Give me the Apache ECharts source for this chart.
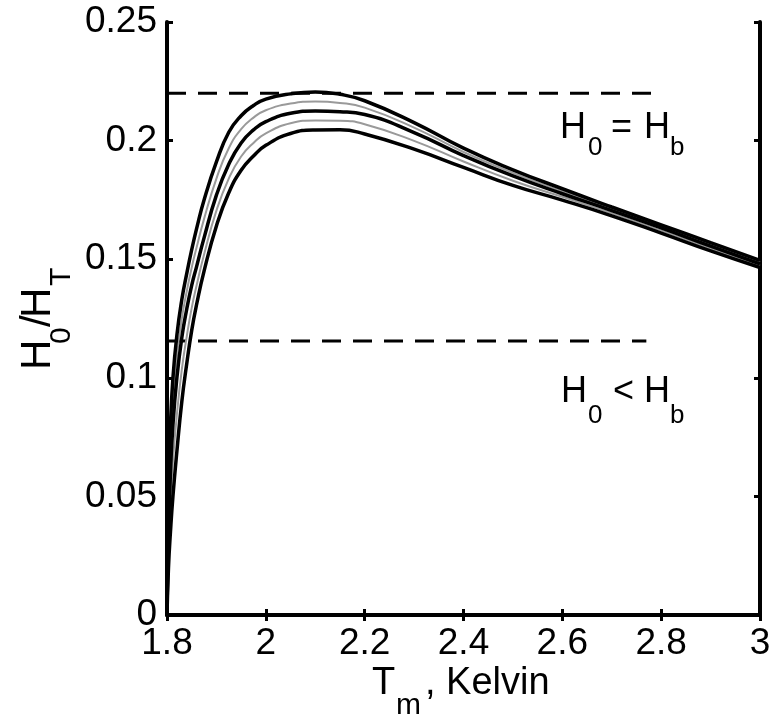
<!DOCTYPE html>
<html>
<head>
<meta charset="utf-8">
<script src="https://cdn.jsdelivr.net/npm/echarts@6/dist/echarts.min.js"></script>
<style>html,body{margin:0;padding:0;background:#fff;}#c{width:784px;height:720px;}</style>
</head>
<body>
<div id="c"></div>
<script>
// Temperature grid (Kelvin)
var tGrid = [1.8, 1.803, 1.807, 1.812, 1.82, 1.83, 1.84, 1.85, 1.86, 1.875, 1.9, 1.925, 1.95, 1.975, 2.0, 2.05, 2.1, 2.15, 2.2, 2.3, 2.4, 2.5, 2.6, 2.7, 2.8, 2.9, 3.0];
// H0/HT curves (top to bottom)
var curveA  = [0, .05, .08, .1, .118, .133, .144, .154, .163, .175, .191, .2035, .2105, .2148, .2175, .2197, .2205, .2195, .2168, .2076, .1968, .1877, .1797, .172, .1645, .157, .1495];
var curveAB = [0, .0425, .07, .09, .109, .125, .1365, .1465, .155, .167, .184, .1968, .2048, .2097, .2128, .2156, .2165, .2159, .2139, .2055, .1952, .1864, .1786, .1713, .1639, .1563, .1488];
var curveB  = [0, .035, .06, .08, .1, .117, .129, .139, .147, .159, .177, .19, .199, .2045, .208, .2115, .2125, .2122, .211, .2034, .1937, .1851, .1776, .1705, .1632, .1555, .148];
var curveBC = [0, .0275, .0475, .065, .0845, .1035, .1175, .1295, .139, .152, .1705, .184, .1933, .199, .203, .2073, .2085, .2084, .2069, .1999, .1912, .1831, .1763, .1694, .1621, .1545, .1473];
var curveC  = [0, .02, .035, .05, .069, .09, .106, .12, .131, .145, .164, .178, .1875, .1935, .198, .203, .2045, .2046, .2028, .1964, .1887, .1811, .1749, .1683, .161, .1535, .1465];
// Dashed reference levels
var upperLevelX = [1.8, 2.78];
var upperLevelY = [0.22, 0.22];
var lowerLevelX = [1.8, 2.77];
var lowerLevelY = [0.1155, 0.1155];

var FONT = '"Liberation Sans", Arial, Helvetica, sans-serif';

function pairs(xs, ys) { return xs.map(function (x, i) { return [x, ys[i]]; }); }

function txt(t, size, x, baseline) {
  return {
    type: 'text', x: x, y: baseline - 0.35 * size,
    style: { text: t, fontSize: size, fontFamily: FONT, fill: '#000',
             align: 'left', verticalAlign: 'middle', textAlign: 'left', textVerticalAlign: 'middle' },
    silent: true
  };
}

var chart = echarts.init(document.getElementById('c'), null, { renderer: 'canvas' });

var axisCommon = {
  axisLine: { show: true, lineStyle: { color: '#000', width: 4 } },
  axisTick: { show: true, inside: true, length: 6, lineStyle: { color: '#000', width: 3 } },
  splitLine: { show: false }
};

function curveSeries(data, color, width, z) {
  return {
    type: 'line', data: data, showSymbol: false, symbol: 'none', smooth: 0.5,
    lineStyle: { color: color, width: width }, z: z, animation: false, silent: true
  };
}

function dashSeries(data) {
  return {
    type: 'line', data: data, showSymbol: false, symbol: 'none',
    lineStyle: { color: '#000', width: 3, type: [19, 12] }, z: 5, animation: false, silent: true
  };
}

var option = {
  backgroundColor: '#fff',
  animation: false,
  grid: { left: 167, right: 24, top: 22, bottom: 105, containLabel: false },
  xAxis: [
    Object.assign({
      type: 'value', min: 1.8, max: 3, interval: 0.2, position: 'bottom',
      axisLabel: { show: true, color: '#000', fontSize: 37, fontFamily: FONT, margin: 10 }
    }, axisCommon),
    Object.assign({
      type: 'value', min: 1.8, max: 3, interval: 0.2, position: 'top',
      axisLabel: { show: false }
    }, axisCommon)
  ],
  yAxis: [
    Object.assign({
      type: 'value', min: 0, max: 0.25, interval: 0.05, position: 'left',
      axisLabel: { show: true, color: '#000', fontSize: 37, fontFamily: FONT, margin: 10 }
    }, axisCommon),
    Object.assign({
      type: 'value', min: 0, max: 0.25, interval: 0.05, position: 'right',
      axisLabel: { show: false }
    }, axisCommon)
  ],
  series: [
    dashSeries(pairs(upperLevelX, upperLevelY)),
    dashSeries(pairs(lowerLevelX, lowerLevelY)),
    curveSeries(pairs(tGrid, curveAB), '#9a9a9a', 2, 6),
    curveSeries(pairs(tGrid, curveBC), '#9a9a9a', 2, 6),
    curveSeries(pairs(tGrid, curveA), '#000', 3.5, 7),
    curveSeries(pairs(tGrid, curveB), '#000', 3.5, 7),
    curveSeries(pairs(tGrid, curveC), '#000', 3.5, 7)
  ],
  graphic: [
    // annotation H0 = Hb
    { type: 'group', silent: true, children: [
      txt('H', 36, 560, 141), txt('0', 26, 588, 157), txt('=', 36, 611, 141),
      txt('H', 36, 644, 141), txt('b', 26, 670, 157)
    ]},
    // annotation H0 < Hb
    { type: 'group', silent: true, children: [
      txt('H', 36, 561, 405), txt('0', 26, 588, 425), txt('<', 36, 613, 405),
      txt('H', 36, 644, 405), txt('b', 26, 670, 425)
    ]},
    // x axis title
    { type: 'group', silent: true, children: [
      txt('T', 38, 372, 697), txt('m', 30, 396, 716), txt(', Kelvin', 38, 425, 697)
    ]},
    // y axis title (rotated, reads bottom to top)
    { type: 'group', silent: true, x: 53, y: 367, rotation: Math.PI / 2, children: [
      txt('H', 42, -3, 0), txt('0', 30, 23, 19), txt('/', 42, 40, 0),
      txt('H', 42, 49, 0), txt('T', 30, 81, 19)
    ]}
  ]
};
chart.setOption(option);
</script>
</body>
</html>
